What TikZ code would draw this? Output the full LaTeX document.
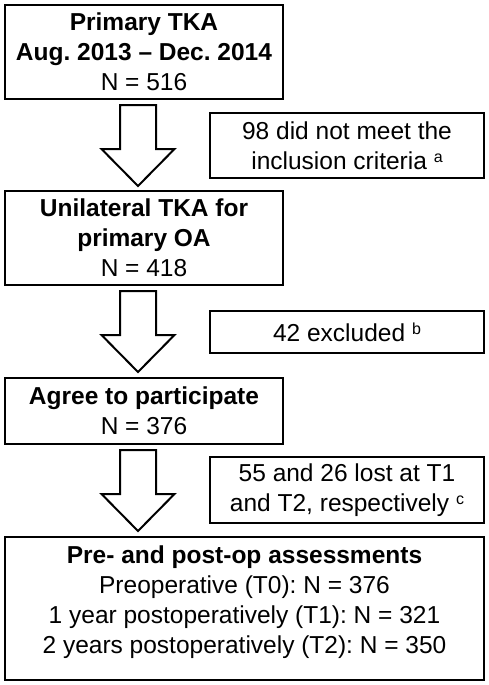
\documentclass[tikz,border=0pt]{standalone}
\usepackage{fontspec}
\setmainfont{Liberation Sans}
\usetikzlibrary{calc}
\frenchspacing
\newcommand\mainsize{\fontsize{24.5}{30}\selectfont}
\newcommand\supnote[1]{{\fontsize{16}{16}\selectfont\raisebox{7pt}{#1}}}
\tikzset{
  box/.style={draw, line width=2.6pt, outer sep=0pt, inner sep=0pt, align=center, font=\mainsize},
  mainbox/.style={box, minimum width=278pt},
  sidebox/.style={box, minimum width=274pt},
  blockarrow/.style={draw, line width=2pt, fill=white, line join=miter}
}
\begin{document}
\begin{tikzpicture}[x=1pt,y=-1pt]
\useasboundingbox (0,0) rectangle (489,685);
\node[mainbox, minimum height=94pt] (b1) at (144,52)
  {\textbf{Primary TKA}\\\textbf{Aug. 2013 – Dec. 2014}\\N = 516};
\node[sidebox, minimum height=65pt] (b2) at (347,145.5)
  {98 did not meet the\\inclusion criteria \supnote{a}};
\node[mainbox, minimum height=94pt] (b3) at (144,238)
  {\textbf{Unilateral TKA for}\\\textbf{primary OA}\\N = 418};
\node[sidebox, minimum height=42pt] (b4) at (347,332)
  {42 excluded \supnote{b}};
\node[mainbox, minimum height=66pt] (b5) at (144,411)
  {\textbf{Agree to participate}\\N = 376};
\node[sidebox, minimum height=66pt] (b6) at (347,490)
  {55 and 26 lost at T1\\and T2, respectively \supnote{c}};
\node[box, minimum width=479pt, minimum height=143pt] (b7) at (244.5,608.5)
  {\textbf{Pre- and post-op assessments}\\Preoperative (T0): N = 376\\1 year postoperatively (T1): N = 321\\2 years postoperatively (T2): N = 350\rule[-17pt]{0pt}{17pt}};
\foreach \src/\name in {b1/a1, b3/a2, b5/a3}{
  \coordinate (\name) at ($(\src.south)+(-6,6)$);
  \draw[blockarrow] (\name) ++(-18,0) -- ++(36,0) -- ++(0,44) -- ++(18.5,0)
     -- ++(-36.5,37) -- ++(-36.5,-37) -- ++(18.5,0) -- cycle;
}
\end{tikzpicture}
\end{document}
